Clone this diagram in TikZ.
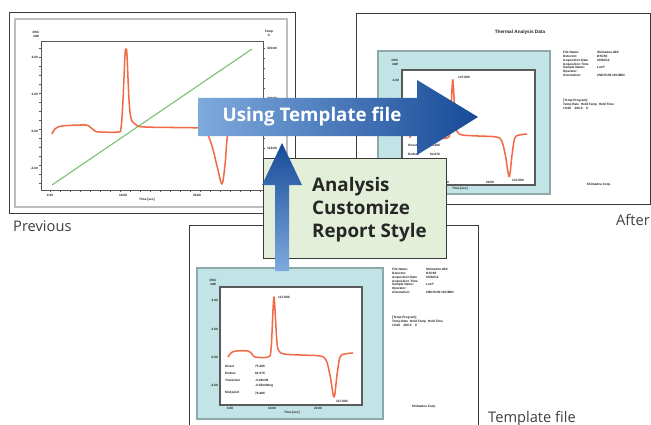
\documentclass[tikz,border=0pt]{standalone}
\usepackage{fontspec}
\setmainfont{Open Sans}
\newfontfamily\tinyfont{Liberation Sans}
\usepackage{tikz}
\usetikzlibrary{calc}
\definecolor{frame}{HTML}{3A3A3A}
\definecolor{softgray}{HTML}{BDBDBD}
\definecolor{axisgray}{HTML}{5A5A5A}
\definecolor{panelcyan}{HTML}{C3E4E6}
\definecolor{panelgray}{HTML}{8FA9AA}
\definecolor{dscorange}{HTML}{F26A45}
\definecolor{tempgreen}{HTML}{7CC576}
\definecolor{boxgreen}{HTML}{E3EFD8}
\definecolor{arrowlight}{HTML}{7EAADD}
\definecolor{arrowmid}{HTML}{3D6EBA}
\definecolor{arrowdark}{HTML}{174A98}
\definecolor{captext}{HTML}{404040}
\definecolor{tinytext}{HTML}{1E1E1E}
\tikzset{
  frameline/.style={draw=frame, line width=0.8pt},
  panel/.style={fill=panelcyan, draw=panelgray, line width=1pt},
  plotbox/.style={fill=white, draw=axisgray, line width=1.1pt},
  dscline/.style={draw=dscorange, line width=1.3pt, line join=round},
  templine/.style={draw=tempgreen, line width=1pt},
  tick/.style={draw=axisgray, line width=0.4pt},
  tiny/.style={font=\tinyfont\bfseries\fontsize{2.7}{3.3}\selectfont, text=tinytext, inner sep=0pt},
  caption/.style={font=\fontsize{12.5}{14}\selectfont, text=captext, inner sep=0pt},
  bigtext/.style={font=\bfseries\fontsize{16}{19.6}\selectfont, inner sep=0pt}
}
\newcommand{\dsctrace}{%
  \draw[dscline] plot[smooth, tension=0.55] coordinates {
    (8,70) (11,66) (16,64) (28,64) (32,67) (35,70) (48,70) (51,63)
    (53,23) (54,10) (55,23) (57,56) (59,64) (64,67) (80,68) (100,69)
    (106,73) (110,88) (114,110) (117,88) (120,70) (125,67) (133,66)};}
\newcommand{\infoblock}{%
  \node[tiny, anchor=north west, align=left] (infolbl) at (0,0)
    {File Name:\\Detector:\\Acquisition Date\\Acquisition Time\\Sample Name:\\Operator:\\Annotation:};
  \node[tiny, anchor=north west, align=left] (infoval) at (34,0)
    {Shimadzu.d00\\DSC50\\00/10/12\\\\Lot\,P\\\\2ND RUN 10C/MIN};
  \node[tiny, anchor=north west, align=left] (progblk) at (0,48)
    {[Temp Program]\\Temp Rate\ \ Hold Temp\ \ Hold Time\\10.00\ \ \ \ 200.0\ \ \ \ 0};}

\begin{document}
\begin{tikzpicture}[x=0.03cm, y=-0.03cm]
  \useasboundingbox (0,0) rectangle (651,425);
  \fill[white] (0,0) rectangle (651,425);

  % previous screen
  \draw[frameline] (9,12) rectangle (295,213);
  \draw[softgray, line width=1.6pt] (15,19) rectangle (287,207);
  \draw[draw=axisgray, line width=0.7pt] (41,41) rectangle (263,190);
  \foreach \y in {48,57,...,185} \draw[tick] (41,\y) -- ++(-2,0);
  \foreach \y in {48,58,...,185} \draw[tick] (263,\y) -- ++(2,0);
  \foreach \x in {50,60,...,260} \draw[tick] (\x,190) -- ++(0,2);
  \foreach \lab/\y in {4.00/57, 2.00/94, 0.00/131, -2.00/168}
    \node[tiny, anchor=east] at (38,\y) {\lab};
  \foreach \lab/\y in {300.00/48, 200.00/98, 100.00/148}
    \node[tiny, anchor=west] at (267,\y) {\lab};
  \foreach \lab/\x in {0.00/50, 10.00/123, 20.00/197}
    \node[tiny] at (\x,195) {\lab};
  \node[tiny, align=center] (prevdsc) at (36,34) {DSC\\mW};
  \node[tiny, align=center] (prevtemp) at (269,33) {Temp\\C};
  \node[tiny] (prevtime) at (147,200) {Time [sec]};
  \draw[templine] (52,185) -- (252,49);
  \draw[dscline] plot[smooth, tension=0.55] coordinates {
    (52,134) (55,129) (62,126) (85,125) (90,127) (95,131) (100,132)
    (118,132) (121,128) (123,100) (125,55) (126,49) (127,55) (129,100)
    (131,118) (135,124) (145,127) (200,128) (206,131) (212,146)
    (218,170) (222,184) (225,165) (228,132) (234,127) (258,126)};
  \node[caption, anchor=west] (prevcap) at (13,226) {Previous};

  % after screen
  \draw[frameline] (356,13) rectangle (650,204);
  \node[tiny, font=\tinyfont\bfseries\fontsize{4}{5}\selectfont] (aftertitle) at (520,32) {Thermal Analysis Data};
  \draw[panel] (378,51) rectangle (550,194);
  \draw[plotbox] (402,70) rectangle (535,185);
  \begin{scope}[shift={(402,70)}, xscale=0.94, yscale=0.97]
    \dsctrace
  \end{scope}
  \node[tiny, align=center] (afterdsc) at (395,62) {DSC\\mW};
  \node[tiny, anchor=east] at (399,80) {4.00};
  \node[tiny, anchor=west] at (458,77) {127.00C};
  \node[tiny, anchor=west] at (408,145) {Onset};
  \node[tiny, anchor=west] at (430,145) {75.20C};
  \node[tiny, anchor=west] at (408,154) {Endset};
  \node[tiny, anchor=west] at (430,154) {82.07C};
  \node[tiny, anchor=west] at (512,180) {127.00C};
  \node[tiny] at (445,182) {10.00};
  \node[tiny] at (490,182) {20.00};
  \node[tiny] (aftertime) at (460,189) {Time [sec]};
  \begin{scope}[shift={(563,51)}]
    \infoblock
  \end{scope}
  \node[tiny] (aftercorp) at (599,185) {Shimadzu Corp.};
  \node[caption, anchor=east] (aftercap) at (650,220) {After};

  % template screen
  \draw[frameline] (189,430) |- (478,225) -- (478,430);
  \draw[panel] (197,268) rectangle (383,419);
  \draw[plotbox] (220,287) rectangle (362,405);
  \begin{scope}[shift={(220,287)}]
    \dsctrace
  \end{scope}
  \node[tiny, align=center] (tmpldsc) at (213,282) {DSC\\mW};
  \foreach \lab/\y in {4.00/300, 2.00/329, 0.00/357, -2.00/385}
    \node[tiny, anchor=east] at (218,\y) {\lab};
  \foreach \lab/\x in {0.00/230, 10.00/272, 20.00/318}
    \node[tiny] at (\x,408) {\lab};
  \node[tiny] (tmpltime) at (292,413) {Time [sec]};
  \node[tiny, anchor=west] at (278,297) {127.00C};
  \node[tiny, anchor=west] at (336,401) {127.00C};
  \foreach \lab/\val/\y in {Onset/75.20C/366, Endset/82.07C/373, Transition/-0.26mW/380, /-0.35mW\/mg/386, Mid point/78.40C/393} {
    \node[tiny, anchor=west] at (225,\y) {\lab};
    \node[tiny, anchor=west] at (255,\y) {\val};
  }
  \begin{scope}[shift={(392,268)}]
    \infoblock
  \end{scope}
  \node[tiny] (tmplcorp) at (424,407) {Shimadzu Corp.};
  \node[caption, anchor=west] (tmplcap) at (488,419) {Template file};

  % arrows and step box
  \shade[left color=arrowlight, middle color=arrowmid, right color=arrowdark]
    (198,98) -- (417,98) -- (417,80) -- (478,117) -- (417,155)
    -- (417,136) -- (198,136) -- cycle;
  \node[bigtext, text=white] (usetmpl) at (312,117) {Using Template file};

  \draw[fill=boxgreen, draw=frame, line width=0.8pt] (263,158) rectangle (446,258);
  \node[bigtext, text=black!85, anchor=west, align=left] (custom) at (312,210)
    {Analysis\\Customize\\Report Style};

  \shade[top color=arrowdark, bottom color=arrowlight]
    (275,271) -- (275,185) -- (262,185) -- (282,143) -- (302,185)
    -- (289,185) -- (289,271) -- cycle;
\end{tikzpicture}
\end{document}
